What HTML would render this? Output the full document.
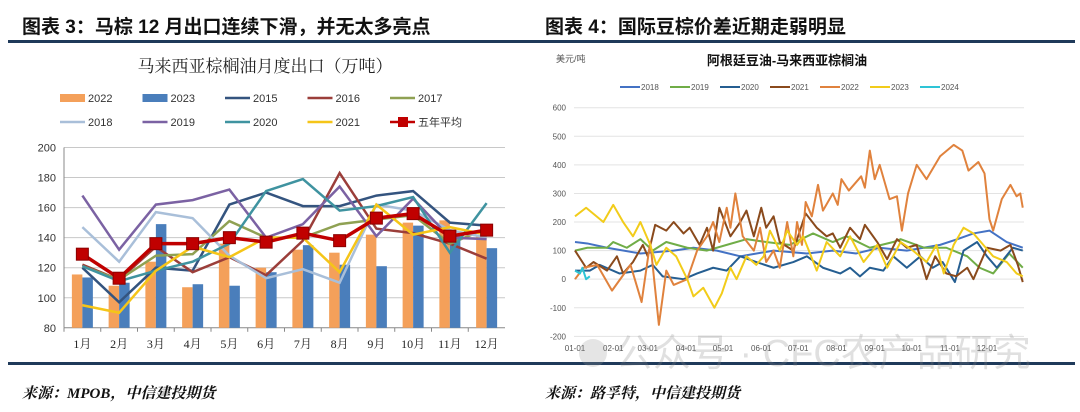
<!DOCTYPE html>
<html><head><meta charset="utf-8"><style>
html,body{margin:0;padding:0;background:#fff;width:1080px;height:412px;overflow:hidden}
svg{display:block}
.hd{font-family:"Liberation Sans","Noto Sans CJK SC",sans-serif;font-weight:bold;font-size:19px;fill:#111}
.ft{font-family:"Liberation Serif","Noto Serif CJK SC",serif;font-style:italic;font-weight:bold;font-size:15px;fill:#111}
.sm{font-family:"Liberation Sans","Noto Sans CJK SC",sans-serif;font-size:11px;fill:#333}
.rs{font-family:"Liberation Sans","Noto Sans CJK SC",sans-serif;font-size:8px;fill:#555}
.se{font-family:"Liberation Serif","Noto Serif CJK SC",serif;font-size:12px;fill:#222}
</style></head><body>
<svg id="root" width="1080" height="412" viewBox="0 0 1080 412">
<text x="22" y="33" class="hd">图表 3：马棕 12 月出口连续下滑，并无太多亮点</text>
<text x="545" y="33" class="hd">图表 4：国际豆棕价差近期走弱明显</text>
<rect x="8" y="40" width="1067" height="3" fill="#1f3a5a"/>
<rect x="8" y="362" width="1067" height="3" fill="#1f3a5a"/>
<text x="22" y="398" class="ft">来源：MPOB，中信建投期货</text>
<text x="545" y="398" class="ft">来源：路孚特，中信建投期货</text>
<text x="265" y="72" text-anchor="middle" font-family="Liberation Serif,Noto Serif CJK SC,serif" font-size="17" fill="#222">马来西亚棕榈油月度出口（万吨）</text>
<text x="787" y="65" text-anchor="middle" class="hd" style="font-size:13px">阿根廷豆油-马来西亚棕榈油</text>
<text x="556" y="62" class="rs" style="font-size:9px">美元/吨</text>
<g id="left"></g>
<g id="right"></g>
<g opacity="0.25">
<circle cx="593" cy="353" r="14" fill="#999"/>
<text x="615" y="366" font-family="Liberation Sans,Noto Sans CJK SC,sans-serif" font-size="38" fill="#888">公众号 · CFC农产品研究</text>
</g>
</svg>
<script>
// LEFT CHART DATA
const months=['1月','2月','3月','4月','5月','6月','7月','8月','9月','10月','11月','12月'];
const yTicksL=[80,100,120,140,160,180,200];
const v2022=[115.5,108,124,107,136,120,132,130,142,150,151.5,141.5];
const v2023=[113.5,110,149,109,108,117,135,122,121,148,142,133];
const v2015=[120,97,120,118,162,170,161,161,168,171,150,148];
const v2016=[122,112,134,117,127,115,138,183,146,143,136,126];
const v2017=[121,112,128,129,151,140,140,149,152,155,136,146];
const v2018=[147,124,157,153,128,113,119,110,162,158,145,140];
const v2019=[168,132,162,165,172,140,149,174,141,166,140,139];
const v2020=[121,111,118,124,136,171,179,158,161,167,130,163];
const v2021=[95,90,118,134,127,140,140,117,162,142,147,142];
const vAvg=[129,113,136,136,140,137,143,138,153,156,141,145];

// RIGHT CHART DATA (day of year, value)
const yTicksR=[-200,-100,0,100,200,300,400,500,600];
const xTickLabels=['01-01','02-01','03-01','04-01','05-01','06-01','07-01','08-01','09-01','10-01','11-01','12-01'];
const xTickDays=[0,31,59,90,120,151,181,212,243,273,304,334];
const d2018=[[0,130],[10,125],[26,110],[53,90],[80,100],[96,110],[115,100],[134,80],[161,100],[188,90],[209,100],[228,90],[247,110],[269,100],[296,120],[310,140],[323,160],[336,170],[350,130],[363,110]];
const d2019=[[0,100],[10,110],[26,110],[31,130],[42,110],[53,140],[63,100],[74,130],[91,110],[107,100],[123,120],[139,140],[155,130],[174,120],[193,160],[209,130],[220,150],[239,110],[258,130],[264,140],[283,110],[301,110],[318,80],[328,40],[339,20],[352,90],[363,40]];
const d2020=[[0,30],[12,30],[20,50],[36,20],[53,30],[63,50],[71,10],[88,0],[99,20],[112,40],[123,30],[134,80],[147,60],[161,40],[177,60],[188,80],[201,40],[215,20],[223,40],[231,10],[239,40],[250,30],[258,80],[269,40],[280,80],[290,40],[298,60],[308,-10],[315,100],[326,130],[334,80],[342,40],[355,110],[363,100]];
const d2021=[[0,100],[9,40],[15,60],[26,30],[34,80],[39,20],[47,60],[55,120],[59,80],[65,190],[74,170],[80,200],[88,160],[93,180],[101,120],[107,180],[112,100],[117,250],[126,150],[134,200],[139,240],[145,150],[151,250],[155,180],[161,220],[166,130],[177,100],[187,230],[196,180],[204,150],[209,160],[215,110],[223,180],[231,140],[235,190],[245,130],[253,70],[261,140],[269,110],[277,120],[285,0],[292,80],[301,20],[309,10],[318,40],[323,0],[334,110],[345,100],[353,120],[359,50],[363,-10]];
const d2022=[[0,0],[7,40],[18,50],[30,-40],[45,50],[54,-80],[61,130],[68,-160],[74,30],[80,-20],[91,0],[99,100],[107,150],[112,200],[117,130],[123,250],[126,180],[130,300],[136,150],[145,100],[150,180],[155,60],[161,100],[166,40],[172,200],[177,80],[180,200],[184,120],[187,270],[192,220],[197,330],[201,240],[209,300],[213,260],[216,350],[222,310],[232,360],[235,320],[239,450],[243,350],[247,400],[255,280],[261,290],[265,170],[270,300],[277,400],[285,350],[296,430],[307,470],[314,450],[319,380],[327,410],[332,370],[336,210],[339,170],[346,280],[353,330],[358,290],[361,300],[363,250]];
const d2023=[[0,220],[9,250],[23,200],[31,260],[39,200],[47,150],[53,200],[61,120],[66,50],[74,110],[82,80],[91,0],[96,-60],[104,-30],[113,-100],[119,-50],[126,40],[131,0],[139,80],[147,50],[153,80],[158,170],[166,100],[172,170],[180,120],[185,150],[196,30],[204,130],[215,80],[223,150],[234,60],[245,120],[253,40],[264,130],[274,100],[285,60],[293,120],[299,20],[307,120],[315,180],[323,160],[331,120],[339,80],[350,60],[358,20],[363,10]];
const d2024=[[0,30],[4,20],[6,40],[9,0],[12,10]];

const NS='http://www.w3.org/2000/svg';
function mk(tag,attrs,parent){const e=document.createElementNS(NS,tag);for(const k in attrs)e.setAttribute(k,attrs[k]);parent.appendChild(e);return e;}

// ---- left chart ----
const L=document.getElementById('left');
const lx0=64,lx1=505,ly=v=>147.5+(200-v)*1.5025,cw=(lx1-lx0)/12,cx=i=>lx0+cw*(i+0.5);
yTicksL.forEach(t=>{
  const g=mk('line',{x1:lx0,x2:lx1,y1:ly(t),y2:ly(t),stroke:t===80?'#888':'#c8c8c8','stroke-width':1},L);
  
  
  const tx=mk('text',{x:lx0-8,y:ly(t)+4,'text-anchor':'end',class:'sm'},L);tx.textContent=t;
  
  
});
mk('line',{x1:lx0,x2:lx0,y1:ly(200),y2:ly(80),stroke:'#888'},L);
months.forEach((m,i)=>{
  const tx=mk('text',{x:cx(i),y:348,'text-anchor':'middle',class:'se'},L);tx.textContent=m;
  
  
  mk('line',{x1:lx0+cw*i,x2:lx0+cw*i,y1:ly(80),y2:ly(80)+4,stroke:'#888'},L);
  const b1=mk('rect',{x:cx(i)-10.5,y:ly(v2022[i]),width:10.5,height:ly(80)-ly(v2022[i]),fill:'#f4a05a'},L);
  
  
  const b2=mk('rect',{x:cx(i),y:ly(v2023[i]),width:10.5,height:ly(80)-ly(v2023[i]),fill:'#4a7ebb'},L);
  
  
});
const lseries=[['2015',v2015,'#34547f'],['2016',v2016,'#9b3e3a'],['2017',v2017,'#8fa153'],['2018',v2018,'#a9bfd9'],['2019',v2019,'#7b62a3'],['2020',v2020,'#3f93a0'],['2021',v2021,'#f5c518']];
lseries.forEach(s=>{
  const p=mk('polyline',{points:s[1].map((v,i)=>cx(i)+','+ly(v)).join(' '),fill:'none',stroke:s[2],'stroke-width':2.5},L);
  
  
});
const pa=mk('polyline',{points:vAvg.map((v,i)=>cx(i)+','+ly(v)).join(' '),fill:'none',stroke:'#c00000','stroke-width':3.5},L);


vAvg.forEach((v,i)=>{
  const r=mk('rect',{x:cx(i)-6,y:ly(v)-6,width:12,height:12,fill:'#c00000',stroke:'#8b0000'},L);
  
  
});
// left legend
const lleg=[['2022','#f4a05a','bar'],['2023','#4a7ebb','bar'],['2015','#34547f','line'],['2016','#9b3e3a','line'],['2017','#8fa153','line'],['2018','#a9bfd9','line'],['2019','#7b62a3','line'],['2020','#3f93a0','line'],['2021','#f5c518','line'],['五年平均','#c00000','avg']];
lleg.forEach((e,i)=>{
  const x=60+(i%5)*82.5,y=i<5?98:122;
  const g=mk('g',{},L);
  
  
  if(e[2]==='bar')mk('rect',{x:x,y:y-4,width:25,height:8,fill:e[1]},g);
  else mk('line',{x1:x,x2:x+25,y1:y,y2:y,stroke:e[1],'stroke-width':2.5},g);
  if(e[2]==='avg')mk('rect',{x:x+8,y:y-5,width:10,height:10,fill:e[1]},g);
  const t=mk('text',{x:x+28,y:y+4,class:'sm','font-size':'11'},g);t.textContent=e[0];
});

// ---- right chart ----
const R=document.getElementById('right');
const rx=d=>575+d*1.2335,ry=v=>107.7+(600-v)*0.2858;
yTicksR.forEach(t=>{
  const g=mk('line',{x1:574,x2:1024,y1:ry(t),y2:ry(t),stroke:'#e3e3e3','stroke-width':1},R);
  
  
  const tx=mk('text',{x:566,y:ry(t)+3,'text-anchor':'end',class:'rs'},R);tx.textContent=t;
  
  
});
xTickLabels.forEach((l,i)=>{
  const tx=mk('text',{x:rx(xTickDays[i]),y:351,'text-anchor':'middle',class:'rs'},R);tx.textContent=l;
  
  
});
const rseries=[['2018',d2018,'#4472c4'],['2019',d2019,'#70ad47'],['2020',d2020,'#255e91'],['2021',d2021,'#8a4a1c'],['2022',d2022,'#e0823d'],['2023',d2023,'#f2cc1a'],['2024',d2024,'#2ec4d6']];
rseries.forEach((s,i)=>{
  const p=mk('polyline',{points:s[1].map(d=>rx(d[0])+','+ry(d[1])).join(' '),fill:'none',stroke:s[2],'stroke-width':2,'stroke-linejoin':'round'},R);
  
  
  const g=mk('g',{},R);
  
  
  const x=620+i*50;
  mk('line',{x1:x,x2:x+20,y1:87,y2:87,stroke:s[2],'stroke-width':2},g);
  const t=mk('text',{x:x+21,y:90,class:'rs'},g);t.textContent=s[0];
});
</script>
</body></html>
